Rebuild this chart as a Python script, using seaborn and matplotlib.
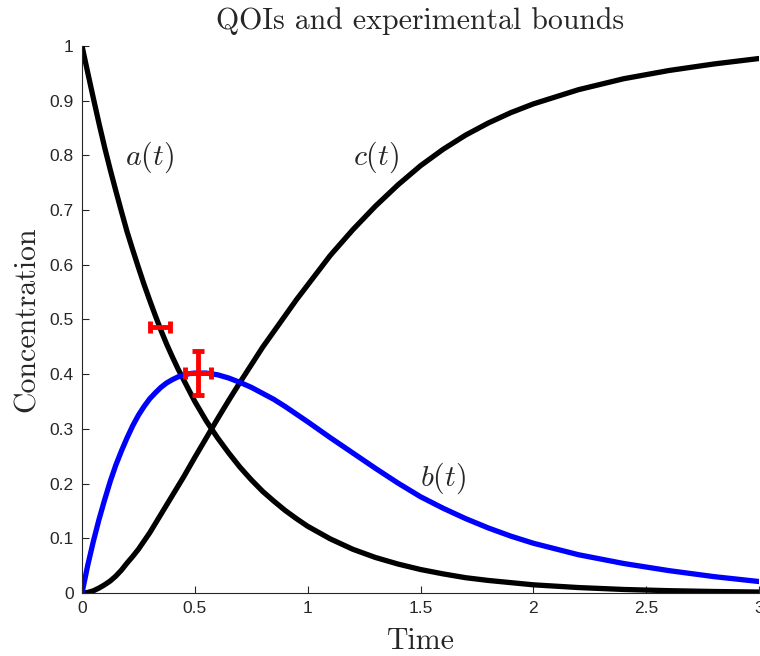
import numpy as np
import pandas as pd
import matplotlib
matplotlib.use("Agg")
import matplotlib.pyplot as plt
import seaborn as sns
from matplotlib.ticker import FuncFormatter

# ---- data ----
t = [0, 0.025, 0.05, 0.075, 0.1, 0.125, 0.15, 0.175, 0.2, 0.225, 0.25, 0.275, 0.3,
     0.325, 0.35, 0.375, 0.4, 0.425, 0.45, 0.475, 0.5,
     0.55, 0.6, 0.65, 0.7, 0.75, 0.8, 0.85, 0.9, 0.95, 1.0,
     1.1, 1.2, 1.3, 1.4, 1.5, 1.6, 1.7, 1.8, 1.9, 2.0,
     2.2, 2.4, 2.6, 2.8, 3.0]
a_vals = [1.0, 0.952, 0.905, 0.859, 0.815, 0.774, 0.735, 0.697, 0.66, 0.627, 0.595,
          0.564, 0.535, 0.507, 0.48, 0.455, 0.432, 0.41, 0.39, 0.37, 0.35,
          0.315, 0.284, 0.256, 0.23, 0.207, 0.186, 0.168, 0.151, 0.136, 0.122,
          0.099, 0.080, 0.065, 0.053, 0.043, 0.035, 0.028, 0.023, 0.019, 0.015,
          0.010, 0.0065, 0.0043, 0.0028, 0.0018]
b_vals = [0.0, 0.05, 0.094, 0.134, 0.17, 0.204, 0.234, 0.26, 0.284, 0.306, 0.325,
          0.341, 0.355, 0.366, 0.376, 0.384, 0.39, 0.395, 0.398, 0.401, 0.402,
          0.402, 0.399, 0.393, 0.385, 0.376, 0.365, 0.354, 0.341, 0.327, 0.313,
          0.284, 0.256, 0.228, 0.201, 0.176, 0.155, 0.136, 0.119, 0.104, 0.091,
          0.070, 0.054, 0.041, 0.030, 0.021]
c_vals = [0.0, 0.001, 0.004, 0.009, 0.015, 0.022, 0.031, 0.042, 0.055, 0.067, 0.08,
          0.095, 0.11, 0.127, 0.144, 0.161, 0.178, 0.195, 0.212, 0.23, 0.248,
          0.283, 0.318, 0.352, 0.385, 0.417, 0.449, 0.478, 0.507, 0.536, 0.563,
          0.617, 0.664, 0.707, 0.746, 0.781, 0.811, 0.837, 0.859, 0.878, 0.894,
          0.92, 0.94, 0.955, 0.967, 0.977]

# experimental bounds (center x, center y, x half-width, y half-width)
exp_x = [0.346, 0.514]
exp_y = [0.486, 0.402]
exp_xerr = [0.044, 0.058]
exp_yerr = [0.0, 0.040]

xticks = [0, 0.5, 1, 1.5, 2, 2.5, 3]
yticks = [0, 0.1, 0.2, 0.3, 0.4, 0.5, 0.6, 0.7, 0.8, 0.9, 1]

sns.set_style("white")
plt.rcParams["mathtext.fontset"] = "cm"
plt.rcParams["axes.unicode_minus"] = False

fig = plt.figure(figsize=(7.6, 6.56), dpi=100)
ax = fig.add_axes([0.1079, 0.096, 0.8908, 0.834])

df = pd.DataFrame({"t": t, "a": a_vals, "b": b_vals, "c": c_vals})
sns.lineplot(data=df, x="t", y="a", ax=ax, color="black", lw=3.8, sort=False)
sns.lineplot(data=df, x="t", y="c", ax=ax, color="black", lw=3.8, sort=False)
sns.lineplot(data=df, x="t", y="b", ax=ax, color="blue", lw=3.8, sort=False)

ax.errorbar([exp_x[0]], [exp_y[0]], xerr=[exp_xerr[0]], fmt="none",
            ecolor="red", elinewidth=3.5, capsize=4, capthick=3.5, zorder=5)
ax.errorbar([exp_x[1]], [exp_y[1]], xerr=[exp_xerr[1]], yerr=[exp_yerr[1]], fmt="none",
            ecolor="red", elinewidth=3.5, capsize=4, capthick=3.5, zorder=5)

ax.set_xlim(0, 3)
ax.set_ylim(0, 1)
ax.set_xticks(xticks)
ax.set_yticks(yticks)
fmt = FuncFormatter(lambda v, p: f"{v:g}")
ax.xaxis.set_major_formatter(fmt)
ax.yaxis.set_major_formatter(fmt)

gray = "#262626"
for s in ["top", "right"]:
    ax.spines[s].set_visible(False)
for s in ["left", "bottom"]:
    ax.spines[s].set_color(gray)
    ax.spines[s].set_linewidth(0.8)
ax.tick_params(direction="in", length=5, width=0.8, colors=gray, labelsize=12.5,
               left=True, bottom=True)
for lab in ax.get_xticklabels() + ax.get_yticklabels():
    lab.set_fontfamily(["Liberation Sans", "DejaVu Sans"])
ax.tick_params(axis="x", pad=6)
ax.tick_params(axis="y", pad=6)

ax.set_xlabel("Time", fontfamily="cmr10", fontsize=21.5, color=gray, labelpad=8)
ax.set_ylabel("Concentration", fontfamily="cmr10", fontsize=21.5, color=gray, labelpad=6)
ax.set_title("QOIs and experimental bounds", fontfamily="cmr10", fontsize=21.5, pad=12)

ax.text(0.30, 0.797, r"$a(t)$", fontsize=21.5, ha="center", va="center")
ax.text(1.305, 0.797, r"$c(t)$", fontsize=21.5, ha="center", va="center")
ax.text(1.6, 0.21, r"$b(t)$", fontsize=21.5, ha="center", va="center")

fig.savefig("out.png", dpi=100)
